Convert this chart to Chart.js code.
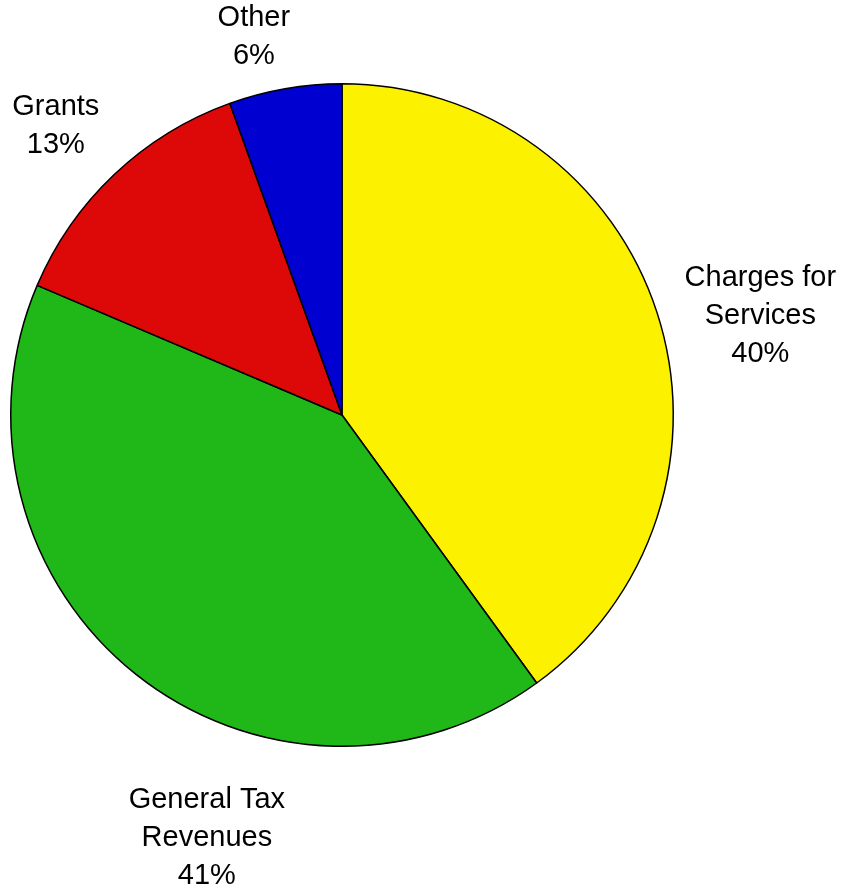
<!DOCTYPE html>
<html>
<head>
<meta charset="utf-8">
<script src="https://cdn.jsdelivr.net/npm/chart.js@4.4.1/dist/chart.umd.min.js"></script>
<style>
    html, body {margin: 0; padding: 0; background: #ffffff;}
    canvas {display: block;}
</style>
</head>
<body>
<canvas id="revenueChart" width="844" height="892"></canvas>
<script>
// revenue sources, clockwise from 12 o'clock
const categories = ["Charges for Services", "General Tax Revenues", "Grants", "Other"];
const labelLines = [["Charges for", "Services"], ["General Tax", "Revenues"], ["Grants"], ["Other"]];
const shares = [40.0, 41.4, 13.1, 5.5];
const sliceColors = ["#fcf200", "#20b818", "#dd0808", "#0000d0"];

// label block centre, in units of the pie radius from the pie centre
const labelSpots = [[1.263, -0.299], [-0.408, 1.278], [-0.864, -0.873], [-0.266, -1.142]];

const outsideLabels = {
    id: "outsideLabels",
    afterDatasetsDraw(chart) {
        const ctx = chart.ctx;
        const arcs = chart.getDatasetMeta(0).data;
        const total = shares.reduce((a, b) => a + b, 0);
        const lineHeight = 38;
        ctx.save();
        ctx.font = "29px 'Liberation Sans', Arial, sans-serif";
        ctx.fillStyle = "#000000";
        ctx.textAlign = "center";
        ctx.textBaseline = "middle";
        arcs.forEach((arc, i) => {
            const r = arc.outerRadius;
            const cx = arc.x + labelSpots[i][0] * r;
            const cy = arc.y + labelSpots[i][1] * r;
            const lines = labelLines[i].concat([Math.round(shares[i] / total * 100) + "%"]);
            const top = cy - (lines.length - 1) * lineHeight / 2;
            lines.forEach((t, j) => ctx.fillText(t, cx, top + j * lineHeight));
        });
        ctx.restore();
    }
};

new Chart(document.getElementById("revenueChart"), {
    type: "pie",
    data: {
        labels: categories,
        datasets: [{
            data: shares,
            backgroundColor: sliceColors,
            borderColor: "#000000",
            borderWidth: 1.5,
            borderAlign: "center"
        }]
    },
    options: {
        responsive: false,
        animation: false,
        devicePixelRatio: 1,
        layout: {padding: {left: 10, right: 170, top: 83, bottom: 145}},
        plugins: {
            legend: {display: false},
            tooltip: {enabled: false}
        }
    },
    plugins: [outsideLabels]
});
</script>
</body>
</html>
